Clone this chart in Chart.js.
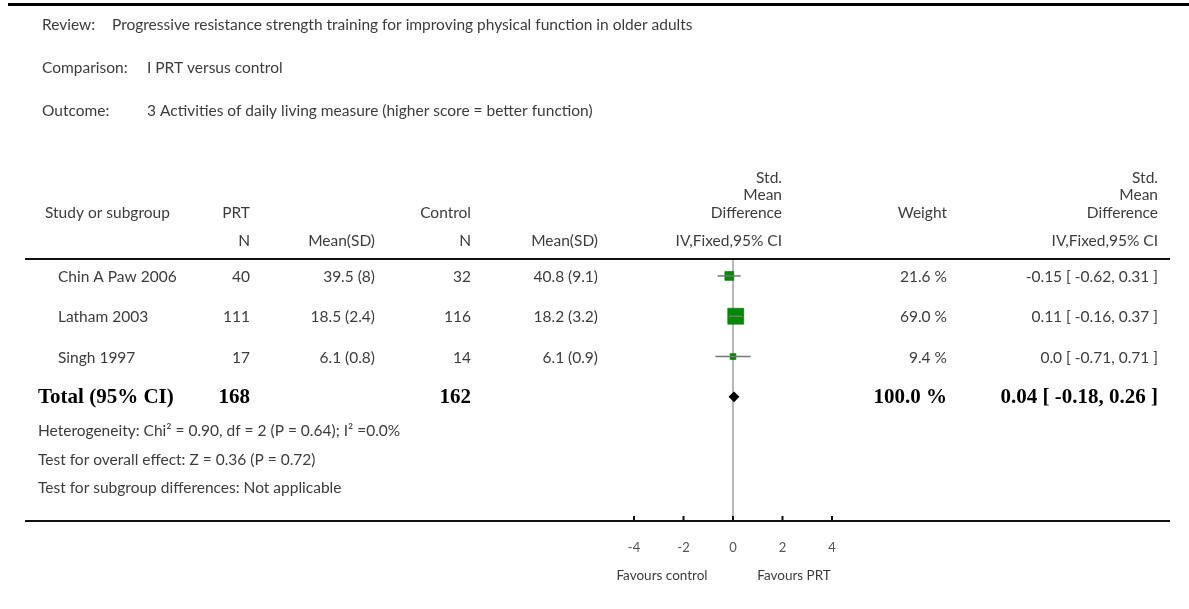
<!DOCTYPE html>
<html>
<head>
<meta charset="utf-8">
<script src="https://cdn.jsdelivr.net/npm/chart.js@4"></script>
<style>
  html, body { margin: 0; padding: 0; background: #fff; }
  #wrap { position: relative; width: 1189px; height: 609px; }
</style>
</head>
<body>
<div id="wrap"><canvas id="forest"></canvas></div>
<script>
// Data
const studies = ['Chin A Paw 2006', 'Latham 2003', 'Singh 1997'];
const prtN = [40, 111, 17];
const prtMean = [39.5, 18.5, 6.1];
const prtSD = [8, 2.4, 0.8];
const ctrlN = [32, 116, 14];
const ctrlMean = [40.8, 18.2, 6.1];
const ctrlSD = [9.1, 3.2, 0.9];
const smd = [-0.15, 0.11, 0.0];
const ciLow = [-0.62, -0.16, -0.71];
const ciHigh = [0.31, 0.37, 0.71];
const weights = [21.6, 69.0, 9.4];

const totalN = [168, 162];
const totalSmd = [0.04];
const totalLow = [-0.18];
const totalHigh = [0.26];
const totalWeight = [100.0];

const axisTicks = [-4, -2, 0, 2, 4];

const FONT = 'Lato, "Open Sans", sans-serif';
const SERIF = '"Liberation Serif", "DejaVu Serif", serif';
const TEXT = '#3c3c3c';

const fmt = v => v === 0 ? '0.0' : v.toFixed(2);
const ciText = (e, lo, hi) => `${fmt(e)} [ ${fmt(lo)}, ${fmt(hi)} ]`;
const maxW = Math.max(...weights);

// one row index per study, total goes after them
const rows = studies.map((s, i) => i + 1);
const totalRow = studies.length + 1;

function txt(ctx, s, x, y, align, font, color) {
    ctx.font = font;
    ctx.textAlign = align;
    ctx.textBaseline = 'middle';
    ctx.fillStyle = color || TEXT;
    ctx.fillText(s, x, y);
}

function hline(ctx, x1, x2, y, w, color) {
    ctx.beginPath();
    ctx.lineWidth = w;
    ctx.strokeStyle = color;
    ctx.moveTo(x1, y);
    ctx.lineTo(x2, y);
    ctx.stroke();
}

// Table text, rules, zero line and axis tick marks
const tablePlugin = {
    id: 'tablePlugin',
    beforeDatasetsDraw(chart) {
        const { ctx, chartArea, scales } = chart;
        const x0 = scales.x.getPixelForValue(0);
        ctx.save();
        // zero line
        ctx.beginPath();
        ctx.lineWidth = 1.5;
        ctx.strokeStyle = '#a0a0a0';
        ctx.moveTo(x0, chartArea.top);
        ctx.lineTo(x0, chartArea.bottom);
        ctx.stroke();
        ctx.restore();
    },
    afterDraw(chart) {
        const { ctx, chartArea, scales } = chart;
        const y = scales.y;
        const f13 = '15.5px ' + FONT;
        const bold = 'bold 21px ' + SERIF;
        ctx.save();

        // rules
        hline(ctx, 8, 1189, 4.5, 3, '#000');
        hline(ctx, 25, 1170, chartArea.top, 2, '#111');
        hline(ctx, 25, 1170, chartArea.bottom, 2, '#111');

        // tick marks pointing up from the axis line
        scales.x.ticks.forEach(t => {
            const px = scales.x.getPixelForValue(t.value);
            ctx.beginPath();
            ctx.lineWidth = 2;
            ctx.strokeStyle = '#111';
            ctx.moveTo(px, chartArea.bottom - 5);
            ctx.lineTo(px, chartArea.bottom);
            ctx.stroke();
        });

        // titles
        txt(ctx, 'Review:', 42, 25, 'left', f13);
        txt(ctx, 'Progressive resistance strength training for improving physical function in older adults', 112, 25, 'left', f13);
        txt(ctx, 'Comparison:', 42, 68, 'left', f13);
        txt(ctx, 'I PRT versus control', 147, 68, 'left', f13);
        txt(ctx, 'Outcome:', 42, 111, 'left', f13);
        txt(ctx, '3 Activities of daily living measure (higher score = better function)', 147, 111, 'left', f13);

        // column headers
        txt(ctx, 'Study or subgroup', 45, 213, 'left', f13);
        txt(ctx, 'PRT', 250, 213, 'right', f13);
        txt(ctx, 'N', 250, 241, 'right', f13);
        txt(ctx, 'Mean(SD)', 375, 241, 'right', f13);
        txt(ctx, 'Control', 471, 213, 'right', f13);
        txt(ctx, 'N', 471, 241, 'right', f13);
        txt(ctx, 'Mean(SD)', 598, 241, 'right', f13);
        [782, 1158].forEach(xr => {
            txt(ctx, 'Std.', xr, 178, 'right', f13);
            txt(ctx, 'Mean', xr, 195, 'right', f13);
            txt(ctx, 'Difference', xr, 213, 'right', f13);
            txt(ctx, 'IV,Fixed,95% CI', xr, 241, 'right', f13);
        });
        txt(ctx, 'Weight', 947, 213, 'right', f13);

        // study rows
        studies.forEach((s, i) => {
            const py = y.getPixelForValue(rows[i]) + 1;
            txt(ctx, s, 58, py, 'left', f13);
            txt(ctx, String(prtN[i]), 250, py, 'right', f13);
            txt(ctx, `${prtMean[i]} (${prtSD[i]})`, 375, py, 'right', f13);
            txt(ctx, String(ctrlN[i]), 471, py, 'right', f13);
            txt(ctx, `${ctrlMean[i]} (${ctrlSD[i]})`, 598, py, 'right', f13);
            txt(ctx, weights[i].toFixed(1) + ' %', 947, py, 'right', f13);
            txt(ctx, ciText(smd[i], ciLow[i], ciHigh[i]), 1158, py, 'right', f13);
        });

        // total row
        const ty = y.getPixelForValue(totalRow) + 1;
        txt(ctx, 'Total (95% CI)', 38, ty, 'left', bold, '#000');
        txt(ctx, String(totalN[0]), 250, ty, 'right', bold, '#000');
        txt(ctx, String(totalN[1]), 471, ty, 'right', bold, '#000');
        txt(ctx, totalWeight[0].toFixed(1) + ' %', 947, ty, 'right', bold, '#000');
        txt(ctx, ciText(totalSmd[0], totalLow[0], totalHigh[0]), 1158, ty, 'right', bold, '#000');

        // footnotes
        txt(ctx, 'Heterogeneity: Chi\u00B2 = 0.90, df = 2 (P = 0.64); I\u00B2 =0.0%', 38, 431, 'left', f13);
        txt(ctx, 'Test for overall effect: Z = 0.36 (P = 0.72)', 38, 460, 'left', f13);
        txt(ctx, 'Test for subgroup differences: Not applicable', 38, 488, 'left', f13);

        // favours labels
        const f11 = '13.5px ' + FONT;
        txt(ctx, 'Favours control', 662, 576, 'center', f11);
        txt(ctx, 'Favours PRT', 794, 576, 'center', f11);
        ctx.restore();
    }
};

// confidence interval segments, one line dataset per study
const ciSets = studies.map((s, i) => ({
    type: 'line',
    label: s + ' CI',
    data: [{ x: ciLow[i], y: rows[i] }, { x: ciHigh[i], y: rows[i] }],
    borderColor: '#777',
    borderWidth: 1.5,
    pointRadius: 0,
    order: 0
}));

const ctx = document.getElementById('forest').getContext('2d');
const chart = new Chart(ctx, {
    type: 'scatter',
    data: {
        datasets: [
            ...ciSets,
            {
                label: 'Studies',
                data: smd.map((v, i) => ({ x: v, y: rows[i] })),
                pointStyle: 'rect',
                // square side grows with sqrt of weight
                pointRadius: studies.map((s, i) => 16 * Math.sqrt(weights[i] / maxW) / Math.SQRT2),
                backgroundColor: '#008a00',
                borderColor: '#006400',
                borderWidth: 0.5,
                order: 1
            },
            {
                label: 'Total',
                data: totalSmd.map((v, i) => ({ x: v, y: totalRow })),
                pointStyle: 'rectRot',
                pointRadius: c => {
                    const xs = c.chart.scales.x;
                    if (!xs) return 5;
                    return (xs.getPixelForValue(totalHigh[0]) - xs.getPixelForValue(totalLow[0])) / 2;
                },
                backgroundColor: '#000',
                borderColor: '#000',
                borderWidth: 0,
                order: 1
            }
        ]
    },
    options: {
        responsive: true,
        maintainAspectRatio: false,
        animation: false,
        events: [],
        layout: { padding: { left: 634, right: 357, top: 259, bottom: 0 } },
        plugins: { legend: { display: false }, tooltip: { enabled: false } },
        scales: {
            x: {
                type: 'linear',
                min: axisTicks[0],
                max: axisTicks[axisTicks.length - 1],
                afterBuildTicks: s => { s.ticks = axisTicks.map(v => ({ value: v })); },
                afterFit: s => { s.height = 88; },
                grid: { display: false, drawTicks: false },
                border: { display: false },
                ticks: {
                    padding: 19,
                    color: '#555',
                    font: { family: FONT, size: 13 },
                    maxRotation: 0,
                    callback: v => String(v)
                }
            },
            y: {
                type: 'linear',
                display: false,
                reverse: true,
                min: 0.58,
                max: 7.08
            }
        }
    },
    plugins: [tablePlugin]
});
</script>
</body>
</html>
